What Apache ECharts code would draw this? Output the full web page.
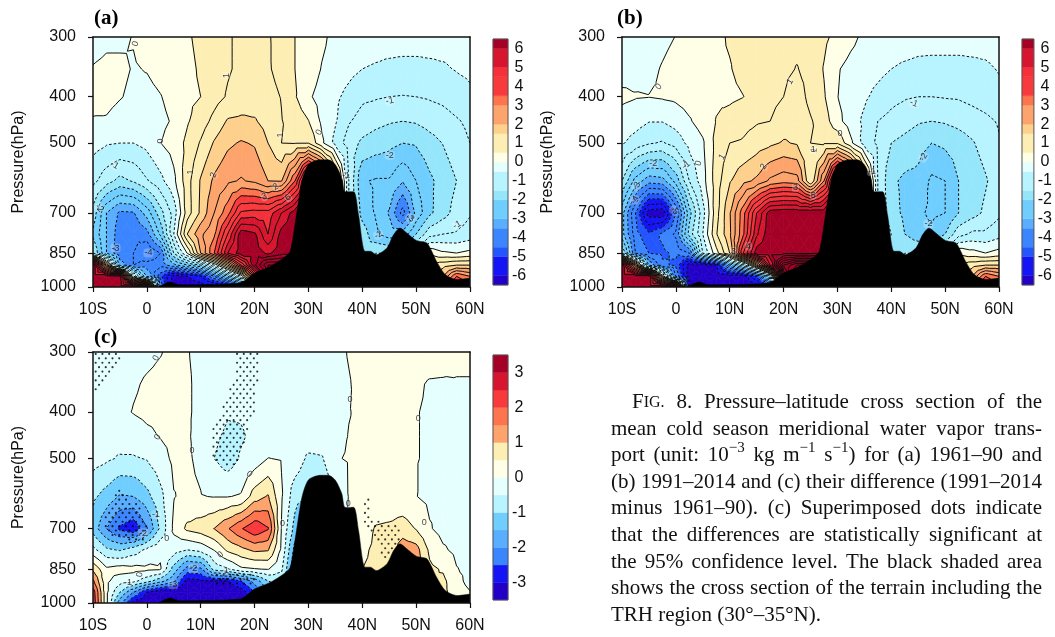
<!DOCTYPE html>
<html><head><meta charset="utf-8">
<style>html,body{margin:0;padding:0;background:#fff}#c{width:1055px;height:637px}</style>
<script src="https://cdn.jsdelivr.net/npm/echarts@6/dist/echarts.min.js"></script>
</head><body><div id="c"></div>
<script>
const lats=[-10,-7.5,-5,-2.5,0,2.5,5,7.5,10,12.5,15,17.5,20,22.5,25,27.5,30,32.5,35,37.5,40,42.5,45,47.5,50,52.5,55,57.5,60];
const levelsP=[300,350,400,450,500,600,700,775,850,900,950,1000];
const latTicks=[-10,0,10,20,30,40,50,60];
const pressureTicks=[300,400,500,700,850,1000];

// Panel (a)
const a300=[-.2,-.1,-.1,.02,.15,.2,.3,.45,.6,.8,.95,1.1,1.1,1.05,.8,.5,.35,.1,-.15,-.2,-.25,-.3,-.3,-.3,-.3,-.3,-.3,-.3,-.3];
const a350=[.03,.1,.1,-.03,.02,.15,.25,.4,.55,.75,.95,1.1,1.15,1.05,.85,.5,.3,-.03,-.2,-.35,-.5,-.55,-.6,-.63,-.63,-.6,-.56,-.47,-.4];
const a400=[.2,.15,.03,-.1,-.12,-.02,.15,.4,.5,.8,1.05,1.2,1.25,1.15,.98,.55,.08,-.2,-.4,-.65,-.9,-.95,-1,-1.02,-1,-.95,-.88,-.75,-.6];
const a450=[-.05,-.05,-.2,-.25,-.2,-.1,.05,.45,.75,1.15,1.55,1.6,1.55,1.3,1.02,.8,.52,-.1,-.45,-.95,-1.2,-1.35,-1.45,-1.5,-1.45,-1.3,-1.2,-1.05,-.9];
const a500=[-.3,-.45,-.5,-.5,-.35,-.01,.2,.62,1.05,1.55,1.9,2.05,1.95,1.5,1,.98,.99,.1,-.65,-1.25,-1.6,-1.75,-1.85,-2,-1.95,-1.7,-1.48,-1.2,-1];
const a600=[-.85,-1.3,-1.65,-1.45,-1.05,-.65,-.12,.8,1.55,2.1,2.4,2.55,2.4,2,1.97,3.5,6.4,5,2,-1,-2.45,-2.55,-2.55,-2.97,-2.5,-2.1,-1.8,-1.5,-1.2];
const a700=[-1.7,-3,-3.6,-3.55,-2.8,-1.7,-.8,.75,1.6,2.5,3.3,4.6,4.7,4.7,5.5,6.3,6.4,6,2,-1,-2.2,-2.55,-3.05,-4.2,-2.85,-2.1,-1.7,-1.3,-1.05];
const a775=[-2.1,-3,-3.8,-3.9,-3.7,-2.4,-.5,1.5,2.4,2.9,4.5,6.3,6.1,5,6.2,6.4,6.4,6,2,-1,-1.7,-2.4,-2.75,-2.8,-2,-1.2,-1,-.95,-.8];
const a850=[-1.5,-3,-3.9,-4,-4.5,-4,-1.5,0.02,2,3.5,5.5,6.3,6.3,5.9,6.3,6.4,6.4,6,2,-1,-2,-1.5,-1.5,-1.5,-1,.4,.1,.01,.15];
const a900=[6.4,1.5,-3.2,-4,-3.8,-3.8,-3.2,-2.5,-2,-.5,1.5,4,6.4,8,8,9,9,6,2,-1,-2,-1.5,-1.5,-1.5,.02,1,1.3,1.5,1.5];
const a950=[6.4,6.4,6.2,-.5,-3,-4.8,-6.3,-6,-5.5,-4,-2.5,-.5,4,8,8,9,9,6,2,-1,-2,-1.5,-1.5,-1.5,.02,1.5,2,3.5,3];
const a1000=[6.4,6.4,6.4,6.4,6.4,-4,-6.4,-6.4,-6.4,-6.4,-6.4,-5,4,8,8,9,9,6,2,-1,-2,-1.5,-1.5,-1.5,.02,2,4,4,4];

// Panel (b)
const b300=[-.3,-.25,-.2,-.1,.01,.1,.25,.4,.55,.65,.75,.85,.9,.88,.8,.6,.35,.12,-.1,-.2,-.25,-.25,-.3,-.3,-.3,-.3,-.3,-.3,-.25];
const b350=[-.2,-.15,-.1,.03,.15,.22,.3,.42,.47,.65,.8,.92,.9,1.02,.85,.47,.04,-.15,-.25,-.35,-.5,-.58,-.63,-.65,-.65,-.65,-.62,-.58,-.47];
const b400=[.1,.03,.01,.05,.1,.2,.28,.42,.4,.49,.7,.85,1,1.25,.85,.55,.01,-.2,-.42,-.65,-.85,-.95,-1,-1,-.97,-.95,-.85,-.75,-.62];
const b450=[-.2,-.3,-.48,-.48,-.3,-.05,.2,.52,.7,.85,.95,1,1.25,1.35,1.05,.75,.15,-.25,-.6,-1,-1.15,-1.3,-1.45,-1.5,-1.45,-1.35,-1.25,-1.12,-.95];
const b500=[-.45,-.7,-.95,-1.05,-.8,-.35,-.07,.65,1,1.05,1.25,1.4,1.55,1.45,1,.95,.95,.1,-.7,-1.1,-1.5,-1.65,-1.8,-2,-1.9,-1.75,-1.55,-1.3,-1.05];
const b600=[-1.5,-2.7,-3.3,-3.2,-2.3,-1,-.2,.75,1.45,1.85,2.1,2.6,2.8,2.7,1,3,6.3,5,2,-1,-1.9,-2.1,-2.15,-2.6,-2.5,-2,-1.8,-1.55,-1.25];
const b700=[-2.8,-4.5,-6.3,-6.4,-4.5,-2.2,-.7,.8,1.95,3.3,5,6.3,6.4,6.4,6.4,6.4,6.4,6,2,-1,-1.8,-2.1,-2.4,-2.6,-2.5,-2,-1.7,-1.4,-1.1];
const b775=[-2.8,-4.3,-4.9,-4.4,-3.9,-1.8,-.5,.95,1.9,3.4,5.4,6.4,6.4,6.4,6.4,6.4,6.4,6,2,-1,-1.5,-2,-2.3,-2.4,-2,-1.2,-.9,-.9,-.7];
const b850=[-1.5,-4,-4.5,-4.6,-4.4,-4,-1,.3,1.5,4.5,6.3,6.4,6.4,6.4,6.4,6.4,6.4,6,2,-1,-1.8,-1.5,-1.5,-1.5,-1,.4,.2,.01,.2];
const b900=[6.4,2,-3,-4.4,-4.6,-6.3,-6.4,-6,-3,-1.5,1.5,5.5,9,10,10,9,9,6,2,-1,-2,-1.5,-1.5,-1.5,.02,1,1.3,1.5,1.5];
const b950=[6.4,6.4,6.4,.5,-4,-6.4,-6.4,-6.4,-6.4,-6.4,-5,-1.5,8,12,12,9,9,6,2,-1,-2,-1.5,-1.5,-1.5,.02,1.5,2,3.5,3];
const b1000=[6.4,6.4,6.4,6.4,6,-6,-6.4,-6.4,-6.4,-6.4,-6.4,-6,4,8,8,9,9,6,2,-1,-2,-1.5,-1.5,-1.5,.02,2,4,4,4];

// Panel (c)
const c300=[-.2,-.2,-.15,-.15,-.1,-.02,.1,.02,-.1,-.15,-.2,-.2,-.2,-.2,-.2,-.2,-.2,-.15,-.1,.02,.1,.15,.15,.15,.15,.15,.15,.1,.1];
const c350=[-.25,-.25,-.2,-.05,.05,.1,.15,.05,-.1,-.2,-.25,-.25,-.25,-.2,-.2,-.2,-.2,-.15,-.1,-.02,.1,.1,.1,.08,.05,-.03,-.04,-.03,-.03];
const c400=[-.3,-.3,-.1,.02,.1,.1,.12,.05,-.1,-.25,-.45,-.45,-.35,-.25,-.2,-.2,-.2,-.15,-.1,-.01,.05,.08,.06,.05,.01,-.03,-.05,-.06,-.06];
const c450=[-.35,-.35,-.3,-.25,-.1,.02,.1,.05,-.15,-.4,-.6,-.55,-.4,-.3,-.25,-.25,-.2,-.2,-.1,.01,.04,.06,.06,.05,.01,-.03,-.06,-.07,-.07];
const c500=[-.3,-.42,-.55,-.55,-.47,-.2,.1,.06,-.1,-.5,-.75,-.45,-.3,.01,-.03,-.2,-.6,-.55,-.03,.03,.05,.06,.05,.05,.01,-.03,-.06,-.07,-.07];
const c600=[-.9,-1.2,-1.55,-1.5,-1.15,-.65,-.02,.1,.02,-.02,-.02,.05,.75,1.05,.05,-.8,-1,-1,-.5,.02,.05,.1,.12,.1,.01,-.1,-.1,-.1,-.1];
const c700=[-1.2,-2,-2.6,-2.9,-2.05,-.9,.1,.6,.75,1.01,1.45,1.95,2.4,2.05,-.02,-1.2,-2,-2,-.5,.1,.2,.55,.6,.75,.47,.04,-.15,-.15,-.15];
const c775=[-.35,-.9,-1.05,-.75,-.4,-.1,-.25,-.5,-.35,.02,.6,.85,1.1,1.05,-.1,-1.7,-2.5,-2,-.5,.1,.4,.6,.7,1.3,1.2,.4,.06,-.1,-.15];
const c850=[.9,.1,.21,.15,.1,.05,-1.2,-2.2,-2.1,-.8,-.55,-.1,-.03,.03,-.4,-2,-2.5,-2,-.5,.1,.5,.6,.7,1.3,1.3,.6,.45,.02,-.1];
const c900=[1.6,.1,-.28,-.35,-.8,-1.3,-1.9,-3.2,-3.1,-3.01,-3,-2.5,-1.8,-1.01,-.8,-2,-2.5,-2,-.5,.1,.5,.6,.7,1.3,1.3,.5,.6,.2,-.2];
const c950=[2.3,.1,-1,-2,-3,-3.4,-3.4,-3.4,-3.4,-3.4,-3.4,-3.3,-2.5,-1.5,-1,-2,-2.5,-2,-.5,.1,.5,.6,.7,1.3,1.3,.5,.6,.3,.03];
const c1000=[2.4,.1,-1.8,-3.2,-3.4,-3.4,-3.4,-3.4,-3.4,-3.4,-3.4,-3.4,-3,-1.5,-1,-2,-2.5,-2,-.5,.1,.5,.6,.7,1.3,1.3,.5,.6,.3,.03];

const gridA=[a300,a350,a400,a450,a500,a600,a700,a775,a850,a900,a950,a1000];
const gridB=[b300,b350,b400,b450,b500,b600,b700,b775,b850,b900,b950,b1000];
const gridC=[c300,c350,c400,c450,c500,c600,c700,c775,c850,c900,c950,c1000];

const terrainLat=[2.1,4.3,6.1,17.3,20,22.9,25.4,26.6,27.5,28.8,30,32.2,33.7,35,36.2,36.8,38.4,39.3,40.5,41.5,42.6,44.6,45.8,47,48.3,50.1,52,53.8,55.4,57.6,60];
const terrainP=[1000,976,989,981,935,906,870,843,741,602,554,542,542,555,592,632,632,706,842,842,856,828,778,753,772,800,809,884,942,965,958];

const edgesAB=[-6.5,-6,-5,-4.5,-3.5,-3,-2,-1.5,-.5,0,.5,1.5,2,3,3.5,4.5,5,6,6.5];
const colorsAB=['#2300c8','#1414f5','#2356ff','#3b85ff','#5aaeff','#70ceff','#96e6fb','#b8f4ff','#e5ffff','#feffe6','#fdeeb4','#fdd08c','#fda46d','#fd744f','#f93a3c','#f5303a','#d8152e','#a50026'];
const edgesC=[-3.5,-3,-2.5,-2,-1.5,-1,-.5,0,.5,1,1.5,2,2.5,3,3.5];
const colorsC=['#2300c8','#1414f5','#3b85ff','#5aaeff','#70ceff','#b8f4ff','#e5ffff','#feffe6','#fdeeb4','#fda46d','#fd744f','#f93a3c','#d8152e','#a50026'];
const ticksAB=[-6,-5,-4,-3,-2,-1,0,1,2,3,4,5,6];
const ticksC=[-3,-2,-1,0,1,2,3];

const labelsA=[[-2.1,310,'0',70],[2.6,495,'0',90],[8.1,575,'1',90],[12.4,583,'2',70],[14.7,361,'1',90],[24.8,481,'1',90],[23.9,617,'2',30],[21.8,647,'3',20],[-6,556,'-1',-30],[-8.8,684,'-2',-50],[-5.8,829,'-3',0],[.3,849,'-4',0],[32,475,'0',60],[45.1,408,'-1',10],[45.1,530,'-2',0],[57.6,741,'-1',30],[43,778,'-2',30],[48.9,718,'-3',-30],[37,585,'-1',0],[26.2,650,'6',40]];
const labelsB=[[-3.2,381,'0',50],[4.2,551,'0',70],[8.6,534,'1',60],[1.9,556,'-1',40],[-4.2,553,'-2',0],[-7.3,615,'-3',60],[-7.6,657,'-4',60],[-.3,693,'-5',-40],[16.3,560,'2',60],[22.2,619,'3',0],[21.2,372,'1',60],[25.7,517,'1',80],[25.5,644,'5',0],[10.7,842,'3',0],[13.5,822,'4',0],[30.5,477,'0',0],[25.5,517,'1',0],[44.2,413,'-1',-20],[46,535,'-2',60],[46.9,738,'-2',0],[36.4,574,'-1',0]];
const labelsC=[[1.7,309,'0',60],[2,451,'0',60],[8.4,481,'0',0],[3.7,734,'0',0],[-1.3,873,'0',80],[1.7,655,'-1',0],[-.7,715,'-2',0],[-3.5,906,'-1',0],[4.9,916,'-3',0],[8.6,849,'-2',0],[14.5,855,'-1',0],[13.7,793,'0',40],[19,539,'0',-40],[25.2,683,'0',0],[37.7,376,'0',0],[50.4,413,'0',0],[37.4,621,'0',0],[51.5,681,'0',0]];

const sigRegion1=[[-10,300],[-4.7,300],[-4.7,316],[-8.1,345],[-9.7,365],[-10,365]];
const sigRegion2=[[16.7,302],[20.7,302],[20.4,383],[18.3,457],[17.3,495],[16.1,519],[13,511],[11.7,495],[12.4,429],[14.8,371],[16.7,326]];
const sigRegion3=[[-5,571],[-1.5,629],[.4,703],[-1,750],[-7.5,726],[-7.8,660]];
const sigRegion4=[[40.2,600],[41.1,600],[41.8,670],[47.3,692],[46.7,750],[44.6,812],[43.3,787],[42.7,738],[40.5,692]];
const sigRegion5=[[12,870],[20,870],[20,930],[12,930]];
const sigRegions=[sigRegion1,sigRegion2,sigRegion3,sigRegion4,sigRegion5];

const captionLines=[
 'F~{IG.} 8. Pressure–latitude cross section of the',
 'mean cold season meridional water vapor trans-',
 'port (unit: 10^{−3} kg m^{−1} s^{−1}) for (a) 1961–90 and',
 '(b) 1991–2014 and (c) their difference (1991–2014',
 'minus 1961–90). (c) Superimposed dots indicate',
 'that the differences are statistically significant at',
 'the 95% confidence level. The black shaded area',
 'shows the cross section of the terrain including the',
 'TRH region (30°–35°N).'];
const captionY=[402,429,455,482,508,535,562,588,615];

const lg=p=>Math.log10(p);
const rowsY=levelsP.map(lg);
const SANS='"Liberation Sans"',SERIF='"Liberation Serif"';

function clip(poly,lev,keepAbove){
  const out=[];
  for(let i=0;i<poly.length;i++){
    const a=poly[i],b=poly[(i+1)%poly.length];
    const ia=keepAbove?a[2]>=lev:a[2]<=lev, ib=keepAbove?b[2]>=lev:b[2]<=lev;
    if(ia)out.push(a);
    if(ia!==ib){const t=(lev-a[2])/(b[2]-a[2]);out.push([a[0]+t*(b[0]-a[0]),a[1]+t*(b[1]-a[1]),lev]);}
  }
  return out;
}
function cellTriangles(g,i,j){
  const p=[[lats[j],rowsY[i],g[i][j]],[lats[j+1],rowsY[i],g[i][j+1]],[lats[j+1],rowsY[i+1],g[i+1][j+1]],[lats[j],rowsY[i+1],g[i+1][j]]];
  const c=[(p[0][0]+p[1][0])/2,(p[0][1]+p[3][1])/2,(p[0][2]+p[1][2]+p[2][2]+p[3][2])/4];
  return [[p[0],p[1],c],[p[1],p[2],c],[p[2],p[3],c],[p[3],p[0],c]];
}
function fillSeries(g,edges,colors,ax){
  const cells=[];
  for(let i=0;i<g.length-1;i++)for(let j=0;j<lats.length-1;j++)cells.push([lats[j],rowsY[i],i,j]);
  return {type:'custom',xAxisIndex:ax.x,yAxisIndex:ax.y,z:2,silent:true,clip:true,progressive:0,animation:false,data:cells,
    encode:{x:0,y:1},
    renderItem:(params,api)=>{
      const c=cells[params.dataIndex],children=[];
      for(const tri of cellTriangles(g,c[2],c[3])){
        for(let b=0;b<colors.length;b++){
          let poly=tri;
          if(b>0)poly=clip(poly,edges[b],true);
          if(poly.length&&b<colors.length-1)poly=clip(poly,edges[b+1],false);
          if(poly.length<3)continue;
          children.push({type:'polygon',shape:{points:poly.map(q=>api.coord([q[0],q[1]]))},style:{fill:colors[b],stroke:colors[b],lineWidth:.7}});
        }
      }
      return {type:'group',children};
    }};
}
function contourPolylines(g){
  const out=[];
  for(let k=-32;k<=32;k++){
    const lev=k*.5,segs=[];
    for(let i=0;i<g.length-1;i++)for(let j=0;j<lats.length-1;j++){
      const tris=cellTriangles(g,i,j);
      tris.forEach(tri=>{
        const pts=[];
        for(let e=0;e<3;e++){
          const a=tri[e],b=tri[(e+1)%3];
          const va=a[2]===lev?a[2]+1e-6:a[2],vb=b[2]===lev?b[2]+1e-6:b[2];
          if((va-lev)*(vb-lev)<0){
            const t=(lev-va)/(vb-va);
            const x=a[0]+t*(b[0]-a[0]),y=a[1]+t*(b[1]-a[1]);
            pts.push([x,y,x.toFixed(5)+'_'+y.toFixed(6)]);
          }
        }
        if(pts.length===2)segs.push(pts);
      });
    }
    const byKey={};
    segs.forEach((s,idx)=>{(byKey[s[0][2]]=byKey[s[0][2]]||[]).push(idx);(byKey[s[1][2]]=byKey[s[1][2]]||[]).push(idx);});
    const used=new Array(segs.length).fill(false);
    const walk=(start,key,line)=>{
      let cur=key;
      for(;;){
        const next=(byKey[cur]||[]).find(n=>!used[n]);
        if(next===undefined)break;
        used[next]=true;
        const s=segs[next],o=s[0][2]===cur?s[1]:s[0];
        line.push(o);cur=o[2];
      }
    };
    segs.forEach((s,idx)=>{
      if(used[idx])return;
      used[idx]=true;
      const fw=[s[1]];walk(idx,s[1][2],fw);
      const bw=[s[0]];walk(idx,s[0][2],bw);
      out.push({lev,pts:bw.reverse().concat(fw)});
    });
  }
  return out;
}
function lineSeries(g,ax){
  const lines=contourPolylines(g);
  return {type:'custom',xAxisIndex:ax.x,yAxisIndex:ax.y,z:3,silent:true,clip:true,progressive:0,animation:false,
    data:lines.map(l=>[l.pts[0][0],l.pts[0][1],l.lev]),encode:{x:0,y:1},
    renderItem:(params,api)=>{
      const l=lines[params.dataIndex];
      return {type:'polyline',shape:{points:l.pts.map(q=>api.coord([q[0],q[1]]))},
        style:{fill:null,stroke:'#0c0c0c',lineWidth:1,lineDash:l.lev<0?[2.6,2]:null}};
    }};
}
function terrainSeries(ax){
  return {type:'line',xAxisIndex:ax.x,yAxisIndex:ax.y,z:4,silent:true,animation:false,showSymbol:false,symbol:'none',smooth:.25,
    lineStyle:{color:'#000',width:.5},areaStyle:{color:'#000',opacity:1,origin:'end'},
    data:terrainLat.map((l,i)=>[l,lg(terrainP[i])])};
}
function labelSeries(list,ax){
  return {type:'scatter',xAxisIndex:ax.x,yAxisIndex:ax.y,z:6,silent:true,animation:false,symbolSize:1,itemStyle:{color:'transparent'},
    data:list.map(d=>({value:[d[0],lg(d[1])],label:{show:true,position:'inside',formatter:d[2],rotate:d[3],fontFamily:SANS,fontSize:9,color:'#111',backgroundColor:'rgba(255,255,255,.3)',padding:[0,1],borderRadius:3}}))};
}
function inPoly(x,y,poly){
  let r=false;
  for(let i=0,j=poly.length-1;i<poly.length;j=i++){
    const a=poly[i],b=poly[j];
    if((a[1]>y)!==(b[1]>y)&&x<(b[0]-a[0])*(y-a[1])/(b[1]-a[1])+a[0])r=!r;
  }
  return r;
}
function dotSeries(ax){
  const dots=[];let row=0;
  for(let y=lg(300)+.004;y<3;y+=.0092,row++){
    for(let x=-10+(row%2?.62:0)+.5;x<60;x+=1.25){
      const p=Math.pow(10,y);
      if(sigRegions.some(r=>inPoly(x,p,r)))dots.push([x,y]);
    }
  }
  return {type:'scatter',xAxisIndex:ax.x,yAxisIndex:ax.y,z:5,silent:true,animation:false,symbol:'circle',symbolSize:2.1,itemStyle:{color:'#000'},data:dots};
}
function barSeries(edges,colors,ax){
  const bands=colors.map((c,i)=>[edges[i],edges[i+1]]);
  return {type:'custom',xAxisIndex:ax.x,yAxisIndex:ax.y,z:2,silent:true,clip:false,animation:false,data:bands,encode:{y:[0,1]},
    renderItem:(params,api)=>{
      const i=params.dataIndex,a=api.coord([0,edges[i]]),b=api.coord([1,edges[i+1]]);
      const kids=[{type:'rect',shape:{x:a[0],y:b[1],width:b[0]-a[0],height:a[1]-b[1]},style:{fill:colors[i],stroke:colors[i],lineWidth:.4}}];
      if(i===colors.length-1){
        const lo=api.coord([0,edges[0]]);
        kids.push({type:'rect',z2:5,shape:{x:lo[0],y:b[1],width:b[0]-lo[0],height:lo[1]-b[1]},style:{fill:null,stroke:'#555',lineWidth:1}});
      }
      return {type:'group',children:kids};
    }};
}

const panels=[
 {g:gridA,e:edgesAB,c:colorsAB,t:ticksAB,labels:labelsA,box:[93,37,377,250],bar:[493,39,15,246],letter:'(a)',lx:94,ly:19},
 {g:gridB,e:edgesAB,c:colorsAB,t:ticksAB,labels:labelsB,box:[622,37,377,250],bar:[1022,39,15,246],letter:'(b)',lx:617,ly:19},
 {g:gridC,e:edgesC,c:colorsC,t:ticksC,labels:labelsC,box:[93,352,377,251],bar:[493,355,15,245],letter:'(c)',lx:94,ly:338}
];
const grid=[],xAxis=[],yAxis=[],series=[],graphic=[];
const labelStyle={fontFamily:SANS,fontSize:16,color:'#111'};
const axLine={show:true,lineStyle:{color:'#111',width:1.5}};
panels.forEach(P=>{
  const gi=grid.length;
  grid.push({left:P.box[0],top:P.box[1],width:P.box[2],height:P.box[3]});
  const xi=xAxis.length,yi=yAxis.length;
  xAxis.push({gridIndex:gi,type:'value',min:-10,max:60,interval:10,position:'bottom',z:10,splitLine:{show:false},axisLine:{...axLine,onZero:false},
    axisTick:{show:true,length:5,lineStyle:{color:'#111',width:1.2}},
    axisLabel:{...labelStyle,margin:15,hideOverlap:false,showMinLabel:true,showMaxLabel:true,customValues:latTicks,formatter:v=>v<0?(-v)+'S':(v===0?'0':v+'N')}});
  xAxis.push({gridIndex:gi,type:'value',min:-10,max:60,position:'top',z:10,splitLine:{show:false},axisLine:{...axLine,onZero:false},axisTick:{show:false},axisLabel:{show:false}});
  yAxis.push({gridIndex:gi,type:'value',inverse:true,min:lg(300),max:3,position:'left',z:10,splitLine:{show:false},axisLine:{...axLine,onZero:false},
    name:'Pressure(hPa)',nameLocation:'middle',nameGap:66,nameTextStyle:{fontFamily:SANS,fontSize:16,color:'#111'},
    axisTick:{show:true,length:5,customValues:pressureTicks.map(lg),lineStyle:{color:'#111',width:1.2}},
    axisLabel:{...labelStyle,margin:17,showMinLabel:true,showMaxLabel:true,customValues:pressureTicks.map(lg),formatter:v=>String(Math.round(Math.pow(10,v)))}});
  yAxis.push({gridIndex:gi,type:'value',inverse:true,min:lg(300),max:3,position:'right',z:10,splitLine:{show:false},axisLine:{...axLine,onZero:false},axisTick:{show:false},axisLabel:{show:false}});
  const ax={x:xi,y:yi};
  series.push(fillSeries(P.g,P.e,P.c,ax),lineSeries(P.g,ax),terrainSeries(ax),labelSeries(P.labels,ax));
  if(P.g===gridC)series.push(dotSeries(ax));
  graphic.push({type:'text',x:P.lx,y:P.ly,z:20,style:{text:P.letter,font:'bold 21px '+SERIF,fill:'#000',verticalAlign:'middle'}});
  // colour bar
  const gb=grid.length;
  grid.push({left:P.bar[0],top:P.bar[1],width:P.bar[2],height:P.bar[3]});
  const xb=xAxis.length,yb=yAxis.length;
  xAxis.push({gridIndex:gb,type:'value',min:0,max:1,show:false});
  const lo=P.e[0],hi=P.e[P.e.length-1];
  yAxis.push({gridIndex:gb,type:'value',min:lo,max:hi,position:'right',splitLine:{show:false},axisLine:{show:false},axisTick:{show:false},
    axisLabel:{...labelStyle,align:'center',margin:11,showMinLabel:true,showMaxLabel:true,customValues:P.t,formatter:v=>String(v)}});
  series.push(barSeries(P.e,P.c,{x:xb,y:yb}));
});

// caption: justified word by word
const ctx=document.createElement('canvas').getContext('2d');
const CF=21,SF=15,CAPSF=16,LEFT=611,RIGHT=1042;
function wordSegs(w){
  const parts=w.split(/(\^\{[^}]*\}|~\{[^}]*\})/).filter(Boolean);
  return parts.map(p=>{
    if(p[0]==='^')return {t:p.slice(2,-1),size:SF,dy:-7};
    if(p[0]==='~')return {t:p.slice(2,-1),size:CAPSF,dy:1};
    return {t:p,size:CF,dy:0};
  });
}
function segW(s){ctx.font=s.size+'px '+SERIF;return ctx.measureText(s.t).width;}
captionLines.forEach((line,li)=>{
  const words=line.split(' ').map(wordSegs);
  const widths=words.map(w=>w.reduce((a,s)=>a+segW(s),0));
  const sum=widths.reduce((a,b)=>a+b,0);
  const x0=li===0?632:LEFT;
  const gap=li===captionLines.length-1?5.3:(RIGHT-x0-sum)/(words.length-1);
  let x=x0;
  words.forEach((w,i)=>{
    let xx=x;
    w.forEach(s=>{
      graphic.push({type:'text',x:xx,y:captionY[li]+s.dy,z:20,style:{text:s.t,font:s.size+'px '+SERIF,fill:'#111',verticalAlign:'middle'}});
      xx+=segW(s);
    });
    x+=widths[i]+gap;
  });
});

const chart=echarts.init(document.getElementById('c'),null,{renderer:'canvas'});
chart.setOption({animation:false,backgroundColor:'#fff',tooltip:{show:false},grid,xAxis,yAxis,series,graphic});
</script></body></html>
